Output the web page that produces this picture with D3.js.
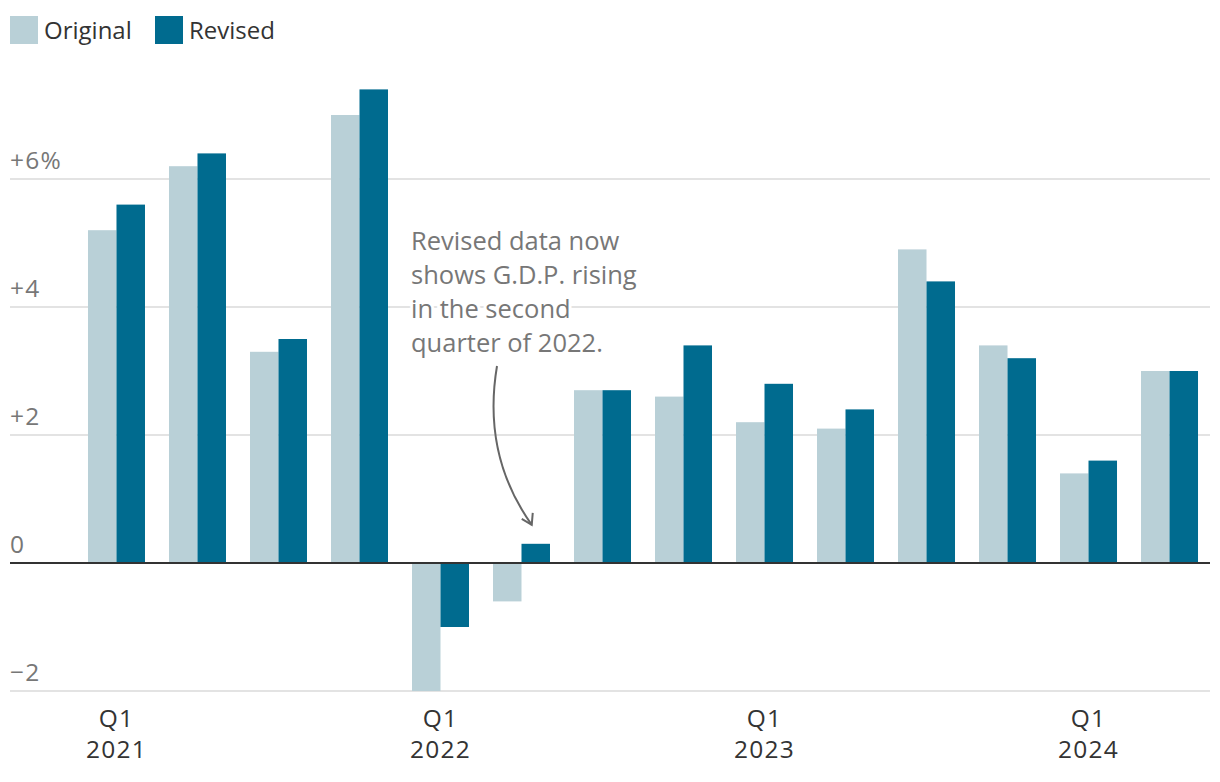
<!DOCTYPE html>
<html><head><meta charset="utf-8">
<script src="https://cdn.jsdelivr.net/npm/d3@7"></script>
<style>
body{margin:0;background:#fff;}
svg{display:block;font-family:"Open Sans","Liberation Sans",sans-serif;}
</style></head>
<body><svg id="chart" width="1220" height="782"></svg>
<script>
const quarters = ["Q1 2021","Q2 2021","Q3 2021","Q4 2021","Q1 2022","Q2 2022","Q3 2022","Q4 2022","Q1 2023","Q2 2023","Q3 2023","Q4 2023","Q1 2024","Q2 2024"];
const original = [5.2, 6.2, 3.3, 7.0, -2.0, -0.6, 2.7, 2.6, 2.2, 2.1, 4.9, 3.4, 1.4, 3.0];
const revised  = [5.6, 6.4, 3.5, 7.4, -1.0, 0.3, 2.7, 3.4, 2.8, 2.4, 4.4, 3.2, 1.6, 3.0];
const seriesNames = ["Original","Revised"];
const yTicks = [-2, 0, 2, 4, 6];
const yTickLabels = ["\u22122", "0", "+2", "+4", "+6%"];
const xTickQuarters = ["Q1 2021","Q1 2022","Q1 2023","Q1 2024"];
const annotationLines = ["Revised data now","shows G.D.P. rising","in the second","quarter of 2022."];

const colors = {Original:"#b9d0d7", Revised:"#006b8f"};
const svg = d3.select("#chart");

const x = d3.scaleBand().domain(quarters).range([76,1210]).paddingInner(24/81).paddingOuter(0.148);
const x1 = d3.scaleBand().domain(seriesNames).range([0, x.bandwidth()]);
const y = d3.scaleLinear().domain([-2, 6]).range([691, 179]);

// gridlines
svg.append("g").selectAll("line").data(yTicks.filter(d=>d!==0)).join("line")
  .attr("x1",10).attr("x2",1210).attr("y1",d=>y(d)).attr("y2",d=>y(d))
  .attr("stroke","#e3e3e3").attr("stroke-width",2);

// y labels
svg.append("g").selectAll("text").data(yTicks).join("text")
  .attr("x",10).attr("y",d=>y(d)-10)
  .attr("fill","#777").attr("font-size",24.5).attr("letter-spacing",1.3)
  .text((d,i)=>yTickLabels[i]);

// bars
const data = quarters.map((q,i)=>({q, vals:[{s:"Original",v:original[i]},{s:"Revised",v:revised[i]}]}));
const g = svg.append("g").selectAll("g").data(data).join("g")
  .attr("transform",d=>`translate(${x(d.q)},0)`);
g.selectAll("rect").data(d=>d.vals).join("rect")
  .attr("x",d=>x1(d.s)).attr("width",x1.bandwidth())
  .attr("y",d=>y(Math.max(0,d.v))).attr("height",d=>Math.abs(y(d.v)-y(0)))
  .attr("fill",d=>colors[d.s]);

// zero line
svg.append("line").attr("x1",10).attr("x2",1210).attr("y1",y(0)).attr("y2",y(0))
  .attr("stroke","#333").attr("stroke-width",2);

// x labels
const xl = svg.append("g").selectAll("text").data(xTickQuarters).join("text")
  .attr("text-anchor","middle").attr("fill","#333").attr("font-size",24.5).attr("letter-spacing",1.3)
  .attr("transform",d=>`translate(${x(d)+x.bandwidth()/2},0)`);
xl.append("tspan").attr("x",0).attr("y",727).text(d=>d.split(" ")[0]);
xl.append("tspan").attr("x",0).attr("y",758).text(d=>d.split(" ")[1]);

// legend
const leg = svg.append("g").selectAll("g").data(seriesNames).join("g")
  .attr("transform",(d,i)=>`translate(${i===0?10:155},16)`);
leg.append("rect").attr("width",28).attr("height",28).attr("fill",d=>colors[d]);
leg.append("text").attr("x",34).attr("y",23).attr("fill","#333").attr("font-size",24).text(d=>d);

// annotation
const ann = svg.append("text").attr("fill","#777").attr("font-size",25.5)
  .attr("stroke","#fff").attr("stroke-width",6).attr("paint-order","stroke");
annotationLines.forEach((l,i)=>ann.append("tspan").attr("x",411).attr("y",250+i*34).text(l));

const tipX = x("Q2 2022")+x1("Revised")+x1.bandwidth()/2-4;
const tipY = y(revised[5])-19;
svg.append("path")
  .attr("d",`M497,366 Q482,455 ${tipX},${tipY}`)
  .attr("fill","none").attr("stroke","#666").attr("stroke-width",2);
svg.append("path")
  .attr("d",`M${tipX-10},${tipY-6} L${tipX},${tipY} L${tipX+1},${tipY-12}`)
  .attr("fill","none").attr("stroke","#666").attr("stroke-width",2);
</script></body></html>
